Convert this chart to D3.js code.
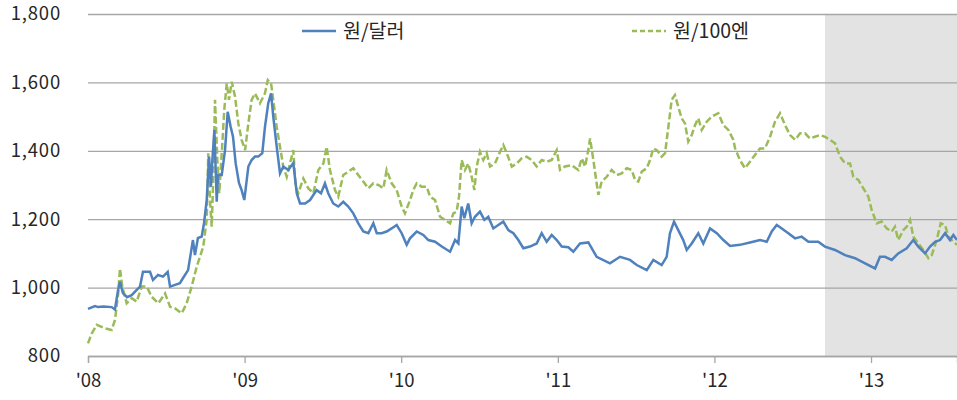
<!DOCTYPE html>
<html>
<head>
<meta charset="utf-8">
<script src="https://cdn.jsdelivr.net/npm/d3@7"></script>
<style>
  body { margin: 0; background: #fff; }
  svg text { font-family: "Noto Sans CJK KR", "Noto Sans", sans-serif; fill: #262626; }
</style>
</head>
<body>
<svg id="svg" width="957" height="400"></svg>
<script>
// decimal year, value
const wonDollar = [
  [2008.000, 938], [2008.045, 946], [2008.064, 943], [2008.100, 945], [2008.151, 943], [2008.172, 936],
  [2008.192, 993], [2008.204, 1017], [2008.223, 984], [2008.249, 972], [2008.279, 978], [2008.311, 993],
  [2008.332, 1003], [2008.351, 1046], [2008.396, 1046], [2008.415, 1022], [2008.447, 1037], [2008.479, 1032],
  [2008.509, 1046], [2008.524, 1003], [2008.556, 1008], [2008.587, 1013], [2008.607, 1028], [2008.639, 1051],
  [2008.670, 1139], [2008.683, 1095], [2008.702, 1145], [2008.726, 1149], [2008.741, 1189], [2008.758, 1256],
  [2008.773, 1383], [2008.785, 1295], [2008.794, 1373], [2008.807, 1461], [2008.822, 1251], [2008.830, 1329],
  [2008.854, 1329], [2008.875, 1402], [2008.892, 1514], [2008.911, 1470], [2008.926, 1441], [2008.943, 1363],
  [2008.964, 1306], [2008.981, 1285], [2008.998, 1256], [2009.024, 1354], [2009.045, 1373], [2009.066, 1383],
  [2009.087, 1383], [2009.113, 1393], [2009.130, 1470], [2009.151, 1539], [2009.169, 1568], [2009.183, 1500],
  [2009.205, 1412], [2009.226, 1334], [2009.247, 1354], [2009.279, 1344], [2009.311, 1364], [2009.333, 1276],
  [2009.354, 1246], [2009.386, 1246], [2009.418, 1256], [2009.460, 1285], [2009.488, 1276], [2009.513, 1305],
  [2009.534, 1276], [2009.566, 1246], [2009.598, 1237], [2009.630, 1251], [2009.662, 1237], [2009.694, 1217],
  [2009.726, 1188], [2009.758, 1164], [2009.790, 1159], [2009.822, 1188], [2009.844, 1159], [2009.875, 1159],
  [2009.907, 1164], [2009.939, 1173], [2009.971, 1183], [2010.003, 1159], [2010.035, 1125], [2010.056, 1144],
  [2010.099, 1164], [2010.141, 1154], [2010.173, 1139], [2010.216, 1134], [2010.259, 1120], [2010.312, 1105],
  [2010.344, 1139], [2010.365, 1129], [2010.386, 1237], [2010.403, 1203], [2010.428, 1246], [2010.450, 1188],
  [2010.471, 1207], [2010.503, 1222], [2010.531, 1198], [2010.556, 1207], [2010.588, 1173], [2010.620, 1183],
  [2010.652, 1193], [2010.684, 1168], [2010.716, 1159], [2010.748, 1139], [2010.780, 1115], [2010.822, 1120],
  [2010.865, 1129], [2010.897, 1159], [2010.929, 1134], [2010.961, 1154], [2010.993, 1139], [2011.025, 1120],
  [2011.067, 1118], [2011.099, 1105], [2011.142, 1129], [2011.195, 1132], [2011.248, 1090], [2011.333, 1071],
  [2011.397, 1090], [2011.461, 1081], [2011.504, 1066], [2011.568, 1051], [2011.610, 1081], [2011.663, 1066],
  [2011.695, 1090], [2011.716, 1159], [2011.742, 1193], [2011.769, 1168], [2011.801, 1139], [2011.823, 1110],
  [2011.855, 1129], [2011.897, 1159], [2011.929, 1129], [2011.972, 1173], [2012.015, 1159], [2012.057, 1139],
  [2012.100, 1122], [2012.163, 1125], [2012.227, 1132], [2012.291, 1139], [2012.334, 1134], [2012.366, 1164],
  [2012.398, 1183], [2012.430, 1173], [2012.472, 1159], [2012.515, 1144], [2012.557, 1149], [2012.600, 1134],
  [2012.663, 1134], [2012.706, 1120], [2012.770, 1110], [2012.834, 1095], [2012.898, 1086], [2012.962, 1071],
  [2013.026, 1056], [2013.057, 1090], [2013.089, 1090], [2013.132, 1081], [2013.174, 1100], [2013.228, 1115],
  [2013.270, 1139], [2013.302, 1120], [2013.345, 1100], [2013.377, 1120], [2013.409, 1134], [2013.441, 1139],
  [2013.473, 1159], [2013.504, 1139], [2013.526, 1154], [2013.549, 1139]
];

const wonYen = [
  [2008.000, 837], [2008.024, 866], [2008.056, 891], [2008.109, 881], [2008.151, 876], [2008.172, 905],
  [2008.193, 983], [2008.204, 1056], [2008.219, 1003], [2008.247, 954], [2008.279, 969], [2008.311, 959],
  [2008.343, 1003], [2008.375, 1003], [2008.407, 973], [2008.449, 954], [2008.492, 983], [2008.524, 944],
  [2008.556, 939], [2008.598, 925], [2008.630, 954], [2008.662, 1003], [2008.694, 1061], [2008.715, 1090],
  [2008.736, 1120], [2008.758, 1198], [2008.768, 1393], [2008.779, 1256], [2008.790, 1178], [2008.800, 1324],
  [2008.811, 1549], [2008.826, 1373], [2008.838, 1276], [2008.854, 1393], [2008.870, 1519], [2008.886, 1597],
  [2008.900, 1549], [2008.918, 1602], [2008.939, 1558], [2008.960, 1480], [2008.981, 1432], [2009.003, 1402],
  [2009.024, 1480], [2009.045, 1549], [2009.066, 1568], [2009.098, 1539], [2009.130, 1568], [2009.148, 1607],
  [2009.169, 1597], [2009.183, 1549], [2009.205, 1470], [2009.226, 1412], [2009.247, 1354], [2009.269, 1324],
  [2009.290, 1363], [2009.311, 1402], [2009.326, 1295], [2009.343, 1276], [2009.375, 1319], [2009.407, 1290],
  [2009.439, 1276], [2009.471, 1344], [2009.503, 1363], [2009.524, 1412], [2009.545, 1344], [2009.577, 1285],
  [2009.598, 1266], [2009.630, 1329], [2009.662, 1339], [2009.694, 1349], [2009.726, 1329], [2009.758, 1310],
  [2009.790, 1290], [2009.822, 1305], [2009.854, 1300], [2009.886, 1290], [2009.907, 1344], [2009.939, 1305],
  [2009.971, 1285], [2010.003, 1237], [2010.024, 1217], [2010.056, 1256], [2010.077, 1285], [2010.099, 1305],
  [2010.131, 1295], [2010.163, 1295], [2010.184, 1266], [2010.216, 1256], [2010.248, 1207], [2010.280, 1198],
  [2010.312, 1188], [2010.333, 1217], [2010.354, 1222], [2010.369, 1266], [2010.386, 1373], [2010.407, 1344],
  [2010.428, 1363], [2010.450, 1324], [2010.467, 1285], [2010.482, 1354], [2010.503, 1397], [2010.524, 1373],
  [2010.546, 1393], [2010.567, 1354], [2010.599, 1363], [2010.631, 1397], [2010.652, 1417], [2010.674, 1393],
  [2010.706, 1354], [2010.738, 1363], [2010.769, 1378], [2010.801, 1383], [2010.833, 1373], [2010.865, 1354],
  [2010.897, 1373], [2010.929, 1368], [2010.961, 1373], [2010.993, 1402], [2011.014, 1344], [2011.046, 1354],
  [2011.089, 1358], [2011.131, 1344], [2011.153, 1378], [2011.174, 1354], [2011.195, 1402], [2011.206, 1436],
  [2011.227, 1373], [2011.248, 1305], [2011.259, 1271], [2011.280, 1310], [2011.312, 1324], [2011.344, 1344],
  [2011.376, 1329], [2011.408, 1334], [2011.440, 1349], [2011.472, 1344], [2011.493, 1315], [2011.514, 1310],
  [2011.536, 1339], [2011.568, 1349], [2011.589, 1373], [2011.610, 1407], [2011.632, 1402], [2011.663, 1383],
  [2011.685, 1393], [2011.706, 1470], [2011.727, 1549], [2011.748, 1563], [2011.769, 1529], [2011.791, 1495],
  [2011.812, 1480], [2011.833, 1427], [2011.855, 1446], [2011.876, 1475], [2011.897, 1495], [2011.919, 1461],
  [2011.951, 1485], [2011.983, 1500], [2012.025, 1510], [2012.057, 1475], [2012.089, 1461], [2012.121, 1432],
  [2012.132, 1407], [2012.163, 1373], [2012.195, 1349], [2012.227, 1368], [2012.259, 1388], [2012.291, 1407],
  [2012.323, 1407], [2012.355, 1441], [2012.387, 1485], [2012.419, 1510], [2012.451, 1475], [2012.483, 1446],
  [2012.515, 1432], [2012.547, 1451], [2012.579, 1451], [2012.610, 1436], [2012.642, 1441], [2012.674, 1446],
  [2012.706, 1441], [2012.738, 1432], [2012.770, 1422], [2012.802, 1383], [2012.834, 1363], [2012.866, 1363],
  [2012.887, 1324], [2012.919, 1315], [2012.951, 1290], [2012.983, 1266], [2013.004, 1227], [2013.036, 1188],
  [2013.068, 1193], [2013.100, 1173], [2013.132, 1164], [2013.153, 1178], [2013.174, 1139], [2013.206, 1168],
  [2013.228, 1178], [2013.249, 1198], [2013.270, 1149], [2013.302, 1129], [2013.334, 1110], [2013.366, 1086],
  [2013.388, 1095], [2013.419, 1139], [2013.445, 1188], [2013.473, 1183], [2013.494, 1149], [2013.526, 1134],
  [2013.549, 1125]
];

const yearTicks = [2008, 2009, 2010, 2011, 2012, 2013];
const yearLabels = ["'08", "'09", "'10", "'11", "'12", "'13"];
const valueTicks = [800, 1000, 1200, 1400, 1600, 1800];
const seriesNames = ["원/달러", "원/100엔"];
const shadeStart = 2012.706;
const dataEnd = 2013.549;

const svg = d3.select('#svg');
const margin = { left: 88, right: 0, top: 14, bottom: 44 };
const W = 957, H = 400;

const x = d3.scaleLinear().domain([2008, dataEnd]).range([margin.left, W - margin.right]);
const y = d3.scaleLinear().domain([800, 1800]).range([H - margin.bottom, margin.top]);

// shaded period
svg.append('rect')
    .attr('x', x(shadeStart))
    .attr('y', y(1800))
    .attr('width', x(dataEnd) - x(shadeStart))
    .attr('height', y(800) - y(1800))
    .attr('fill', '#e3e3e3');

// gridlines + y labels
const yAxis = d3.axisLeft(y).tickValues(valueTicks).tickSize(-(W - margin.left)).tickFormat(d3.format(','));
svg.append('g')
    .attr('transform', `translate(${margin.left},0)`)
    .call(yAxis)
    .call(g => g.select('.domain').remove())
    .call(g => g.selectAll('.tick line').attr('stroke', '#a6a6a6').attr('stroke-width', 1.3))
    .call(g => g.selectAll('.tick text').attr('x', -27).attr('font-size', 18.5).attr('letter-spacing', 0.8));

// x axis
const xAxis = d3.axisBottom(x).tickValues(yearTicks).tickSize(7).tickFormat((d, i) => yearLabels[i]);
svg.append('g')
    .attr('transform', `translate(0,${y(800)})`)
    .call(xAxis)
    .call(g => g.select('.domain').attr('stroke', '#a6a6a6').attr('stroke-width', 1.3))
    .call(g => g.selectAll('.tick line').attr('stroke', '#a6a6a6').attr('stroke-width', 1.3))
    .call(g => g.selectAll('.tick text').attr('y', 18).attr('font-size', 18.5));

const line = d3.line().x(d => x(d[0])).y(d => y(d[1]));

svg.append('path')
    .datum(wonYen)
    .attr('d', line)
    .attr('fill', 'none')
    .attr('stroke', '#9bbb59')
    .attr('stroke-width', 2.5)
    .attr('stroke-dasharray', '7,3');

svg.append('path')
    .datum(wonDollar)
    .attr('d', line)
    .attr('fill', 'none')
    .attr('stroke', '#4f81bd')
    .attr('stroke-width', 2.5);

// legend
const legend = [
    { name: seriesNames[0], color: '#4f81bd', dash: null, x0: 302 },
    { name: seriesNames[1], color: '#9bbb59', dash: '5,3', x0: 632 }
];
const lg = svg.append('g').selectAll('g').data(legend).join('g')
    .attr('transform', d => `translate(${d.x0},31)`);
lg.append('line')
    .attr('x1', 0).attr('x2', 34).attr('y1', 0).attr('y2', 0)
    .attr('stroke', d => d.color)
    .attr('stroke-width', 2.5)
    .attr('stroke-dasharray', d => d.dash);
lg.append('text')
    .attr('x', 41).attr('y', 0).attr('dy', '0.35em')
    .attr('font-size', 19.5)
    .text(d => d.name);
</script>
</body>
</html>
